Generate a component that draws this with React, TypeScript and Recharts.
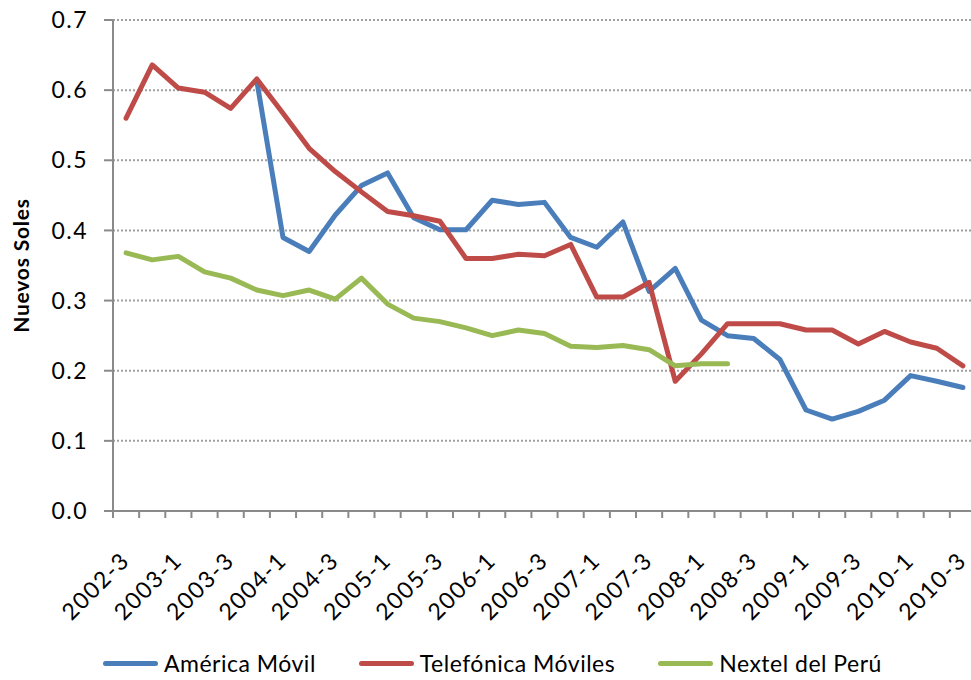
import { CartesianGrid, Legend, Line, LineChart, XAxis, YAxis } from "recharts";

const quarters = [
  "2002-3", "2002-4",
  "2003-1", "2003-2", "2003-3", "2003-4",
  "2004-1", "2004-2", "2004-3", "2004-4",
  "2005-1", "2005-2", "2005-3", "2005-4",
  "2006-1", "2006-2", "2006-3", "2006-4",
  "2007-1", "2007-2", "2007-3", "2007-4",
  "2008-1", "2008-2", "2008-3", "2008-4",
  "2009-1", "2009-2", "2009-3", "2009-4",
  "2010-1", "2010-2", "2010-3",
];

const americaMovil = [
  null, null, null, null, null, 0.613, 0.39, 0.37, 0.422, 0.464, 0.482, 0.418, 0.401, 0.401,
  0.443, 0.437, 0.44, 0.39, 0.376, 0.412, 0.313, 0.346, 0.272, 0.25, 0.246, 0.216, 0.144,
  0.131, 0.142, 0.158, 0.193, 0.185, 0.176,
];

const telefonica = [
  0.56, 0.636, 0.603, 0.597, 0.574, 0.616, 0.567, 0.517, 0.484, 0.455, 0.427, 0.421, 0.413,
  0.36, 0.36, 0.366, 0.364, 0.38, 0.305, 0.305, 0.326, 0.185, 0.224, 0.267, 0.267, 0.267,
  0.258, 0.258, 0.238, 0.256, 0.241, 0.232, 0.207,
];

const nextel = [
  0.368, 0.358, 0.363, 0.341, 0.332, 0.315, 0.307, 0.315, 0.302, 0.332, 0.295, 0.275, 0.27,
  0.261, 0.25, 0.258, 0.253, 0.235, 0.233, 0.236, 0.23, 0.207, 0.21, 0.21,
  null, null, null, null, null, null, null, null, null,
];

const yTicks = [0, 0.1, 0.2, 0.3, 0.4, 0.5, 0.6, 0.7];

const series = [
  { key: "am", name: "América Móvil", color: "#4A7EBB" },
  { key: "tm", name: "Telefónica Móviles", color: "#BE4B48" },
  { key: "nx", name: "Nextel del Perú", color: "#98B954" },
];

const data = quarters.map((q, i) => ({
  q,
  am: americaMovil[i],
  tm: telefonica[i],
  nx: nextel[i],
}));

const FONT = "Lato, 'Liberation Sans', sans-serif";
const AXIS = "#8a8a8a";
const CHART_W = 990;
const Y_W = 113;
const RIGHT = 14;
const BAND = (CHART_W - Y_W - RIGHT) / quarters.length;

const XTick = (props: any) => {
  const { x, y, payload, index } = props;
  const lx = x + 5;
  const ly = y + 51;
  return (
    <g>
      <line x1={x - BAND / 2} x2={x - BAND / 2} y1={y} y2={y + 7} stroke={AXIS} strokeWidth={2} />
      {index % 2 === 0 && (
        <text
          x={lx}
          y={ly}
          transform={`rotate(-45 ${lx} ${ly})`}
          textAnchor="end"
          fontSize={23}
          letterSpacing={1.5}
          fontFamily={FONT}
          fill="#000"
        >
          {payload.value}
        </text>
      )}
    </g>
  );
};

const YLabel = (props: any) => {
  const { viewBox } = props;
  const cx = viewBox.x + 20;
  const cy = viewBox.y + viewBox.height / 2;
  return (
    <text
      x={cx}
      y={cy}
      transform={`rotate(-90 ${cx} ${cy})`}
      textAnchor="middle"
      dominantBaseline="central"
      fontSize={21}
      letterSpacing={0.8}
      fontWeight="bold"
      fontFamily={FONT}
      fill="#000"
    >
      Nuevos Soles
    </text>
  );
};

const LegendBox = () => (
  <div
    style={{
      height: 40,
      display: "flex",
      alignItems: "center",
      paddingLeft: 103,
      gap: 43,
      fontFamily: FONT,
      fontSize: 23,
      letterSpacing: 0.5,
      color: "#000",
      position: "relative",
      top: 3,
    }}
  >
    {series.map((s) => (
      <div key={s.key} style={{ display: "flex", alignItems: "center" }}>
        <span
          style={{
            display: "inline-block",
            width: 55,
            height: 5,
            borderRadius: 3,
            background: s.color,
            marginRight: 6,
          }}
        />
        <span>{s.name}</span>
      </div>
    ))}
  </div>
);

export default function App() {
  return (
    <div style={{ position: "absolute", left: 0, top: 0, width: 971, height: 680, overflow: "hidden", background: "#fff" }}>
      <LineChart width={CHART_W} height={680} data={data} margin={{ top: 20, right: RIGHT, left: 0, bottom: 0 }}>
        <CartesianGrid vertical={false} stroke="#a0a0a0" strokeWidth={2} strokeDasharray="2 2" />
        <XAxis
          dataKey="q"
          interval={0}
          height={129}
          padding={{ left: BAND / 2, right: BAND / 2 }}
          tickSize={0}
          tickMargin={0}
          tick={<XTick />}
          axisLine={{ stroke: AXIS, strokeWidth: 2 }}
          tickLine={false}
        />
        <YAxis
          width={Y_W}
          domain={[0, 0.7]}
          ticks={yTicks}
          tickFormatter={(v: number) => v.toFixed(1)}
          tickSize={9}
          tickMargin={16}
          tick={{ fontSize: 23, letterSpacing: 1.5, fontFamily: FONT, fill: "#000" }}
          axisLine={{ stroke: AXIS, strokeWidth: 2 }}
          tickLine={{ stroke: AXIS, strokeWidth: 2 }}
          label={<YLabel />}
        />
        <Legend verticalAlign="bottom" content={<LegendBox />} />
        {series.map((s) => (
          <Line
            key={s.key}
            type="linear"
            dataKey={s.key}
            name={s.name}
            stroke={s.color}
            strokeWidth={5}
            strokeLinejoin="round"
            strokeLinecap="round"
            dot={false}
            activeDot={false}
            isAnimationActive={false}
          />
        ))}
      </LineChart>
    </div>
  );
}
